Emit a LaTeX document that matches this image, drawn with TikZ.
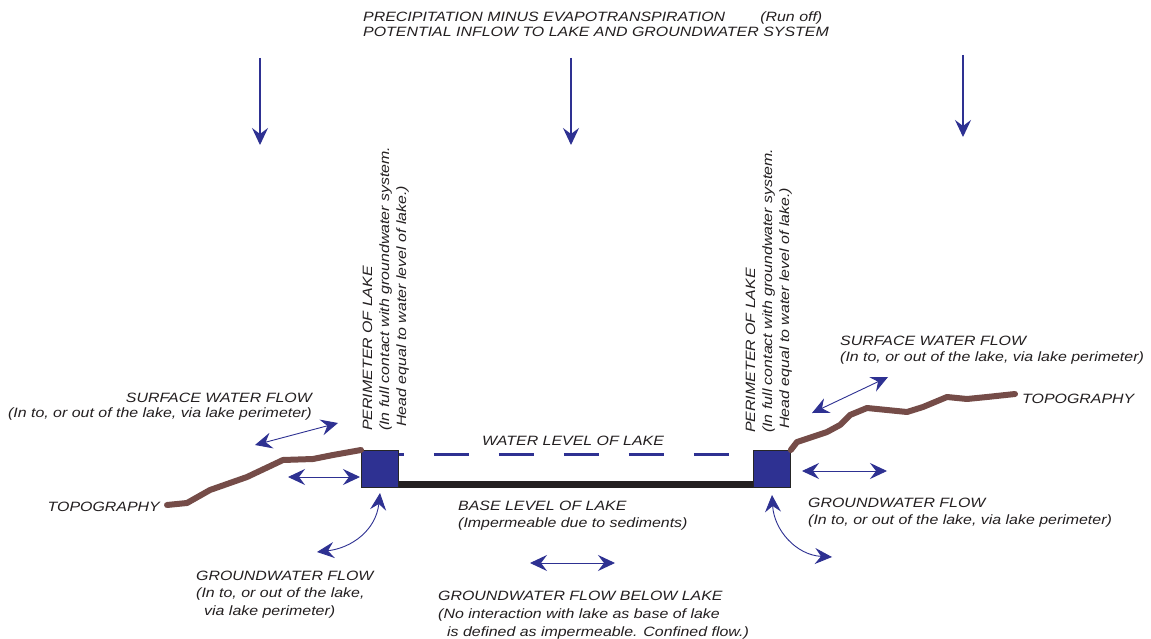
\documentclass[tikz,border=0pt]{standalone}
\usepackage{fontspec}
\usetikzlibrary{arrows.meta}
\newfontfamily\lblfont{Liberation Sans}[FakeStretch=1.18]
\definecolor{myblue}{RGB}{46,49,146}
\definecolor{topobrown}{RGB}{117,76,72}
\definecolor{txt}{RGB}{35,31,32}
\tikzset{
  tip/.tip={Stealth[length=17pt,width=16pt,inset=6pt]},
  flow/.style={draw=myblue, line width=0.9pt, tip-tip},
  downflow/.style={draw=myblue, line width=1.1pt, -tip},
  lbl/.style={font={\lblfont\itshape\fontsize{13.5}{17}\selectfont}, text=txt, inner sep=0pt},
  topo/.style={draw=topobrown, line width=6pt, line cap=round, line join=round},
  perim/.style={draw=black!85, fill=myblue, line width=0.8pt, inner sep=0pt, minimum size=37pt, anchor=north west},
  lakebase/.style={draw=txt, line width=7pt},
  waterlevel/.style={draw=myblue, line width=3pt, dash pattern=on 35pt off 30pt, dash phase=30pt}
}
\begin{document}
\begin{tikzpicture}[x=1pt,y=-1pt]
\useasboundingbox[fill=white] (0,0) rectangle (1151,639);

% top text (base anchor = last line)
\node[lbl, anchor=base west, align=left, font={\lblfont\itshape\fontsize{13.5}{15}\selectfont}] (top) at (363,37)
  {PRECIPITATION MINUS EVAPOTRANSPIRATION\hspace{2.6em}(Run off)\\POTENTIAL INFLOW TO LAKE AND GROUNDWATER SYSTEM};

% rain arrows
\coordinate (r1a) at (260,58); \coordinate (r1b) at (260,145);
\coordinate (r2a) at (571,58); \coordinate (r2b) at (571,145);
\coordinate (r3a) at (963,55); \coordinate (r3b) at (963,137);
\draw[downflow] (r1a) -- (r1b);
\draw[downflow] (r2a) -- (r2b);
\draw[downflow] (r3a) -- (r3b);

% lake perimeters
\node[perim] (pl) at (361,450) {};
\node[perim] (pr) at (753,450) {};

% base and water level
\draw[lakebase] ([yshift=3.5pt]pl.south east) -- ([yshift=3.5pt]pr.south west);
\draw[waterlevel] ([yshift=-4pt]pl.north east) -- ([yshift=-4pt]pr.north west);

% topography
\draw[topo] (167,505) -- (187,503) -- (210,490) -- (247,477) -- (283,460) -- (313,459) -- (333,455) -- (pl.north west);
\draw[topo] (pr.north east) -- (797,442) -- (827,432) -- (840,425) -- (850,415) -- (867,408) -- (907,412) -- (923,407) -- (947,397) -- (967,399) -- (987,397) -- (1015,394);

% flow arrows
\coordinate (lsa) at (255,445); \coordinate (lsb) at (338,423);
\draw[flow] (lsa) -- (lsb);
\coordinate (lga) at (288,477); \coordinate (lgb) at (360,477);
\draw[flow] (lga) -- (lgb);
\coordinate (lca) at (380,493); \coordinate (lcb) at (317,552);
\draw[flow] (lca) .. controls (376,530) and (352,548) .. (lcb);
\coordinate (bla) at (530,563); \coordinate (blb) at (615,563);
\draw[flow] (bla) -- (blb);
\coordinate (rsa) at (812,413); \coordinate (rsb) at (888,377);
\draw[flow] (rsa) -- (rsb);
\coordinate (rga) at (802,471); \coordinate (rgb) at (887,471);
\draw[flow] (rga) -- (rgb);
\coordinate (rca) at (772,495); \coordinate (rcb) at (832,557);
\draw[flow] (rca) .. controls (774,530) and (796,555) .. (rcb);

% labels (for multi-line nodes, base = baseline of last line)
\node[lbl, anchor=base east, align=right, font={\lblfont\itshape\fontsize{13.5}{15}\selectfont}] (lsurf) at (312,417)
  {SURFACE WATER FLOW\\(In to, or out of the lake, via lake perimeter)};
\node[lbl, anchor=base west, align=left, font={\lblfont\itshape\fontsize{13.5}{16}\selectfont}] (rsurf) at (840,361)
  {SURFACE WATER FLOW\\(In to, or out of the lake, via lake perimeter)};
\node[lbl, anchor=base east] (ltopo) at (160,511) {TOPOGRAPHY};
\node[lbl, anchor=base west] (rtopo) at (1022,403) {TOPOGRAPHY};
\node[lbl, anchor=base west] (wl) at (482,445) {WATER LEVEL OF LAKE};
\node[lbl, anchor=base west, align=left] (bl) at (458,527)
  {BASE LEVEL OF LAKE\\(Impermeable due to sediments)};
\node[lbl, anchor=base west, align=left, font={\lblfont\itshape\fontsize{13.5}{17.5}\selectfont}] (lgw) at (196,615)
  {GROUNDWATER FLOW\\(In to, or out of the lake,\\\hspace{8pt}via lake perimeter)};
\node[lbl, anchor=base west, align=left, font={\lblfont\itshape\fontsize{13.5}{18}\selectfont}] (bgw) at (438,636)
  {GROUNDWATER FLOW BELOW LAKE\\(No interaction with lake as base of lake\\\hspace{9pt}is defined as impermeable. Confined flow.)};
\node[lbl, anchor=base west, align=left] (rgw) at (808,524)
  {GROUNDWATER FLOW\\(In to, or out of the lake, via lake perimeter)};
\node[lbl, rotate=90, anchor=base west, align=left] (lper) at (406,431)
  {PERIMETER OF LAKE\\(In full contact with groundwater system.\\\hspace{4pt}Head equal to water level of lake.)};
\node[lbl, rotate=90, anchor=base west, align=left] (rper) at (789,433)
  {PERIMETER OF LAKE\\(In full contact with groundwater system.\\\hspace{4pt}Head equal to water level of lake.)};
\end{tikzpicture}
\end{document}
